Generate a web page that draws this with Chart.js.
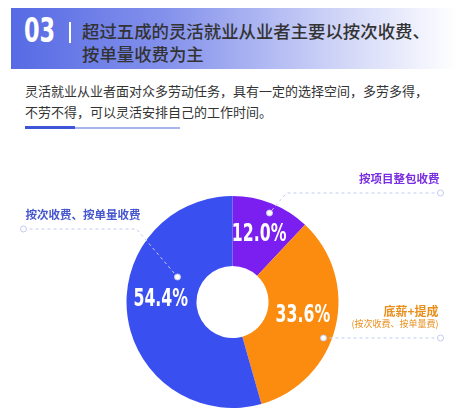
<!DOCTYPE html>
<html>
<head>
<meta charset="utf-8">
<script src="https://cdn.jsdelivr.net/npm/chart.js@4"></script>
<style>
  html, body { margin: 0; padding: 0; background: #fff; }
  body { width: 465px; height: 420px; position: relative; overflow: hidden;
         font-family: "Noto Sans CJK SC", "Noto Sans", sans-serif; color: #333; }
  .band { position: absolute; left: 11px; top: 8px; width: 446px; height: 61px;
          background: linear-gradient(90deg, #566ae4 0%, #8492ec 35%, #c9cff6 70%, #ffffff 100%); }
  .num { position: absolute; left: 24px; top: 11px; font: bold 33px "DejaVu Sans", sans-serif;
         color: #fff; transform: scaleX(0.68); transform-origin: left top; }
  .bar { position: absolute; left: 69px; top: 22px; width: 2px; height: 21px; background: #fff; }
  .title { position: absolute; left: 82px; top: 19px; font-size: 17.4px; line-height: 23px; color: #333; font-weight: 500; }
  .sub { position: absolute; left: 25px; top: 80px; font-size: 13px; line-height: 21px; color: #333; }
  .line1 { position: absolute; left: 25px; top: 126px; width: 50px; height: 3px; background: #3f55d8; }
  .line2 { position: absolute; left: 75px; top: 127px; width: 105px; height: 1.5px; background: #a9b4ee; }
  #wrap { position: absolute; left: 0; top: 140px; width: 465px; height: 280px; }
</style>
</head>
<body>
<div class="band"></div>
<div class="num">03</div>
<div class="bar"></div>
<div class="title">超过五成的灵活就业从业者主要以按次收费、<br>按单量收费为主</div>
<div class="sub">灵活就业从业者面对众多劳动任务，具有一定的选择空间，多劳多得，<br>不劳不得，可以灵活安排自己的工作时间。</div>
<div class="line1"></div>
<div class="line2"></div>
<div id="wrap"><canvas id="pie"></canvas></div>
<script>
const categories = ["按项目整包收费", "底薪+提成", "按次收费、按单量收费"];
const shares = [12.0, 33.6, 54.4];
const sliceColors = ["#7b1ff0", "#fb8c10", "#3a4ff0"];

// callout text and leader paths, relative to the pie centre
const callouts = [
  { lines: [["按项目整包收费", "bold 11.5px", 207, -123]], align: "right", color: "#7a2ee2",
    path: [[208, -109], [54, -109], [37, -89]] },
  { lines: [["底薪+提成", "bold 12px", 206, 9], ["(按次收费、按单量费)", "9px", 206, 22]], align: "right", color: "#e98f1d",
    path: [[208, 36], [91, 36]] },
  { lines: [["按次收费、按单量收费", "bold 11.5px", -207, -87]], align: "left", color: "#4656cf",
    path: [[-209, -73], [-96, -73], [-55, -25]] },
];
// small nudges of the percent labels away from the arc centroid
const labelShift = [[0, 0], [0, -4], [0, -12]];

const pieLabels = {
  id: "pieLabels",
  afterDatasetsDraw(chart) {
    const ctx = chart.ctx;
    const arcs = chart.getDatasetMeta(0).data;
    const cx = arcs[0].x, cy = arcs[0].y;
    ctx.save();
    // percent labels, squeezed to look like a condensed face
    arcs.forEach((arc, i) => {
      const mid = (arc.startAngle + arc.endAngle) / 2;
      const r = arc.innerRadius + (arc.outerRadius - arc.innerRadius) * 0.52;
      const x = arc.x + Math.cos(mid) * r + labelShift[i][0];
      const y = arc.y + Math.sin(mid) * r + labelShift[i][1];
      ctx.save();
      ctx.translate(x, y);
      ctx.scale(0.63, 1);
      ctx.font = 'bold 25px "DejaVu Sans", sans-serif';
      ctx.fillStyle = "#fff";
      ctx.textAlign = "center";
      ctx.textBaseline = "middle";
      ctx.fillText(shares[i].toFixed(1) + "%", 0, 0);
      ctx.restore();
    });
    // callouts
    callouts.forEach((c) => {
      ctx.strokeStyle = "#c3cbef";
      ctx.lineWidth = 1;
      ctx.setLineDash([3, 3]);
      ctx.beginPath();
      c.path.forEach(([dx, dy], k) => (k ? ctx.lineTo(cx + dx, cy + dy) : ctx.moveTo(cx + dx, cy + dy)));
      ctx.stroke();
      ctx.setLineDash([]);
      [c.path[0], c.path[c.path.length - 1]].forEach(([dx, dy]) => {
        ctx.beginPath();
        ctx.arc(cx + dx, cy + dy, 3, 0, Math.PI * 2);
        ctx.fillStyle = "#fff";
        ctx.fill();
        ctx.stroke();
      });
      c.lines.forEach(([txt, font, dx, dy]) => {
        ctx.font = font + ' "Noto Sans CJK SC", sans-serif';
        ctx.fillStyle = c.color;
        ctx.textAlign = c.align;
        ctx.textBaseline = "middle";
        ctx.fillText(txt, cx + dx, cy + dy);
      });
    });
    ctx.restore();
  },
};

new Chart(document.getElementById("pie"), {
  type: "doughnut",
  data: {
    labels: categories,
    datasets: [{ data: shares, backgroundColor: sliceColors, borderWidth: 0 }],
  },
  options: {
    responsive: true,
    maintainAspectRatio: false,
    animation: false,
    cutout: "34%",
    layout: { padding: { top: 56, bottom: 12 } },
    plugins: { legend: { display: false }, tooltip: { enabled: false } },
  },
  plugins: [pieLabels],
});
</script>
</body>
</html>
